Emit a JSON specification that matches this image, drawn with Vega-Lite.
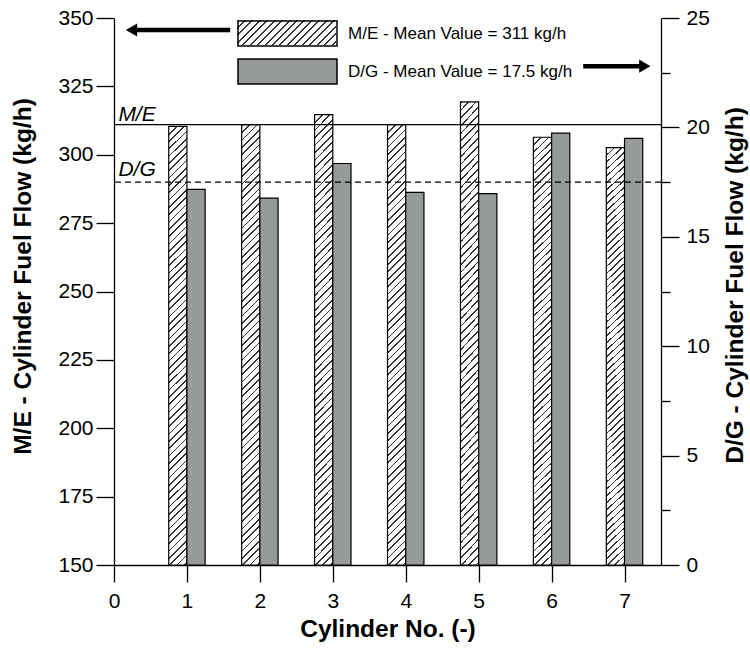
{
  "$schema": "https://vega.github.io/schema/vega-lite/v6.json",
  "width": 547,
  "height": 547,
  "autosize": "none",
  "padding": {"left": 114, "top": 18, "right": 89, "bottom": 85},
  "background": "white",
  "config": {
    "view": {"stroke": null},
    "font": "Liberation Sans",
    "axis": {"grid": false, "domainColor": "black", "domainWidth": 1.3, "tickColor": "black", "tickWidth": 1.3, "labelFont": "Liberation Sans", "labelFontSize": 21, "labelColor": "black", "titleFont": "Liberation Sans", "titleFontSize": 24.5, "titleFontWeight": "bold", "titleColor": "black"}
  },
  "data": {"values": [
    {"cyl": 1, "engine": "M/E", "flow": 310.4}, {"cyl": 2, "engine": "M/E", "flow": 311.0}, {"cyl": 3, "engine": "M/E", "flow": 314.7}, {"cyl": 4, "engine": "M/E", "flow": 311.0}, {"cyl": 5, "engine": "M/E", "flow": 319.3}, {"cyl": 6, "engine": "M/E", "flow": 306.4}, {"cyl": 7, "engine": "M/E", "flow": 302.6},
    {"cyl": 1, "engine": "D/G", "flow": 17.17}, {"cyl": 2, "engine": "D/G", "flow": 16.77}, {"cyl": 3, "engine": "D/G", "flow": 18.35}, {"cyl": 4, "engine": "D/G", "flow": 17.03}, {"cyl": 5, "engine": "D/G", "flow": 16.97}, {"cyl": 6, "engine": "D/G", "flow": 19.74}, {"cyl": 7, "engine": "D/G", "flow": 19.5}
  ]},
  "layer": [
    {"layer": [
      {"transform": [{"filter": "datum.engine === 'M/E'"}],
       "mark": {"type": "bar", "orient": "vertical", "width": 18.2, "xOffset": -9.1, "stroke": "black", "strokeWidth": 1.2,
         "fill": {"gradient": "linear", "x1": 0, "y1": 0, "x2": 0.043, "y2": 1.04, "stops": [
{"offset":0,"color":"#333"},{"offset":0.0037,"color":"#333"},{"offset":0.0037,"color":"#fff"},{"offset":0.016,"color":"#fff"},
{"offset":0.016,"color":"#333"},{"offset":0.0197,"color":"#333"},{"offset":0.0197,"color":"#fff"},{"offset":0.032,"color":"#fff"},
{"offset":0.032,"color":"#333"},{"offset":0.0357,"color":"#333"},{"offset":0.0357,"color":"#fff"},{"offset":0.048,"color":"#fff"},
{"offset":0.048,"color":"#333"},{"offset":0.0517,"color":"#333"},{"offset":0.0517,"color":"#fff"},{"offset":0.064,"color":"#fff"},
{"offset":0.064,"color":"#333"},{"offset":0.0677,"color":"#333"},{"offset":0.0677,"color":"#fff"},{"offset":0.08,"color":"#fff"},
{"offset":0.08,"color":"#333"},{"offset":0.0837,"color":"#333"},{"offset":0.0837,"color":"#fff"},{"offset":0.096,"color":"#fff"},
{"offset":0.096,"color":"#333"},{"offset":0.0997,"color":"#333"},{"offset":0.0997,"color":"#fff"},{"offset":0.112,"color":"#fff"},
{"offset":0.112,"color":"#333"},{"offset":0.1157,"color":"#333"},{"offset":0.1157,"color":"#fff"},{"offset":0.128,"color":"#fff"},
{"offset":0.128,"color":"#333"},{"offset":0.1317,"color":"#333"},{"offset":0.1317,"color":"#fff"},{"offset":0.144,"color":"#fff"},
{"offset":0.144,"color":"#333"},{"offset":0.1477,"color":"#333"},{"offset":0.1477,"color":"#fff"},{"offset":0.16,"color":"#fff"},
{"offset":0.16,"color":"#333"},{"offset":0.1637,"color":"#333"},{"offset":0.1637,"color":"#fff"},{"offset":0.176,"color":"#fff"},
{"offset":0.176,"color":"#333"},{"offset":0.1797,"color":"#333"},{"offset":0.1797,"color":"#fff"},{"offset":0.192,"color":"#fff"},
{"offset":0.192,"color":"#333"},{"offset":0.1957,"color":"#333"},{"offset":0.1957,"color":"#fff"},{"offset":0.208,"color":"#fff"},
{"offset":0.208,"color":"#333"},{"offset":0.2117,"color":"#333"},{"offset":0.2117,"color":"#fff"},{"offset":0.224,"color":"#fff"},
{"offset":0.224,"color":"#333"},{"offset":0.2277,"color":"#333"},{"offset":0.2277,"color":"#fff"},{"offset":0.24,"color":"#fff"},
{"offset":0.24,"color":"#333"},{"offset":0.2437,"color":"#333"},{"offset":0.2437,"color":"#fff"},{"offset":0.256,"color":"#fff"},
{"offset":0.256,"color":"#333"},{"offset":0.2597,"color":"#333"},{"offset":0.2597,"color":"#fff"},{"offset":0.272,"color":"#fff"},
{"offset":0.272,"color":"#333"},{"offset":0.2757,"color":"#333"},{"offset":0.2757,"color":"#fff"},{"offset":0.288,"color":"#fff"},
{"offset":0.288,"color":"#333"},{"offset":0.2917,"color":"#333"},{"offset":0.2917,"color":"#fff"},{"offset":0.304,"color":"#fff"},
{"offset":0.304,"color":"#333"},{"offset":0.3077,"color":"#333"},{"offset":0.3077,"color":"#fff"},{"offset":0.32,"color":"#fff"},
{"offset":0.32,"color":"#333"},{"offset":0.3237,"color":"#333"},{"offset":0.3237,"color":"#fff"},{"offset":0.336,"color":"#fff"},
{"offset":0.336,"color":"#333"},{"offset":0.3397,"color":"#333"},{"offset":0.3397,"color":"#fff"},{"offset":0.352,"color":"#fff"},
{"offset":0.352,"color":"#333"},{"offset":0.3557,"color":"#333"},{"offset":0.3557,"color":"#fff"},{"offset":0.368,"color":"#fff"},
{"offset":0.368,"color":"#333"},{"offset":0.3717,"color":"#333"},{"offset":0.3717,"color":"#fff"},{"offset":0.384,"color":"#fff"},
{"offset":0.384,"color":"#333"},{"offset":0.3877,"color":"#333"},{"offset":0.3877,"color":"#fff"},{"offset":0.4,"color":"#fff"},
{"offset":0.4,"color":"#333"},{"offset":0.4037,"color":"#333"},{"offset":0.4037,"color":"#fff"},{"offset":0.416,"color":"#fff"},
{"offset":0.416,"color":"#333"},{"offset":0.4197,"color":"#333"},{"offset":0.4197,"color":"#fff"},{"offset":0.432,"color":"#fff"},
{"offset":0.432,"color":"#333"},{"offset":0.4357,"color":"#333"},{"offset":0.4357,"color":"#fff"},{"offset":0.448,"color":"#fff"},
{"offset":0.448,"color":"#333"},{"offset":0.4517,"color":"#333"},{"offset":0.4517,"color":"#fff"},{"offset":0.464,"color":"#fff"},
{"offset":0.464,"color":"#333"},{"offset":0.4677,"color":"#333"},{"offset":0.4677,"color":"#fff"},{"offset":0.48,"color":"#fff"},
{"offset":0.48,"color":"#333"},{"offset":0.4837,"color":"#333"},{"offset":0.4837,"color":"#fff"},{"offset":0.496,"color":"#fff"},
{"offset":0.496,"color":"#333"},{"offset":0.4997,"color":"#333"},{"offset":0.4997,"color":"#fff"},{"offset":0.512,"color":"#fff"},
{"offset":0.512,"color":"#333"},{"offset":0.5157,"color":"#333"},{"offset":0.5157,"color":"#fff"},{"offset":0.528,"color":"#fff"},
{"offset":0.528,"color":"#333"},{"offset":0.5317,"color":"#333"},{"offset":0.5317,"color":"#fff"},{"offset":0.544,"color":"#fff"},
{"offset":0.544,"color":"#333"},{"offset":0.5477,"color":"#333"},{"offset":0.5477,"color":"#fff"},{"offset":0.56,"color":"#fff"},
{"offset":0.56,"color":"#333"},{"offset":0.5637,"color":"#333"},{"offset":0.5637,"color":"#fff"},{"offset":0.576,"color":"#fff"},
{"offset":0.576,"color":"#333"},{"offset":0.5797,"color":"#333"},{"offset":0.5797,"color":"#fff"},{"offset":0.592,"color":"#fff"},
{"offset":0.592,"color":"#333"},{"offset":0.5957,"color":"#333"},{"offset":0.5957,"color":"#fff"},{"offset":0.608,"color":"#fff"},
{"offset":0.608,"color":"#333"},{"offset":0.6117,"color":"#333"},{"offset":0.6117,"color":"#fff"},{"offset":0.624,"color":"#fff"},
{"offset":0.624,"color":"#333"},{"offset":0.6277,"color":"#333"},{"offset":0.6277,"color":"#fff"},{"offset":0.64,"color":"#fff"},
{"offset":0.64,"color":"#333"},{"offset":0.6437,"color":"#333"},{"offset":0.6437,"color":"#fff"},{"offset":0.656,"color":"#fff"},
{"offset":0.656,"color":"#333"},{"offset":0.6597,"color":"#333"},{"offset":0.6597,"color":"#fff"},{"offset":0.672,"color":"#fff"},
{"offset":0.672,"color":"#333"},{"offset":0.6757,"color":"#333"},{"offset":0.6757,"color":"#fff"},{"offset":0.688,"color":"#fff"},
{"offset":0.688,"color":"#333"},{"offset":0.6917,"color":"#333"},{"offset":0.6917,"color":"#fff"},{"offset":0.704,"color":"#fff"},
{"offset":0.704,"color":"#333"},{"offset":0.7077,"color":"#333"},{"offset":0.7077,"color":"#fff"},{"offset":0.72,"color":"#fff"},
{"offset":0.72,"color":"#333"},{"offset":0.7237,"color":"#333"},{"offset":0.7237,"color":"#fff"},{"offset":0.736,"color":"#fff"},
{"offset":0.736,"color":"#333"},{"offset":0.7397,"color":"#333"},{"offset":0.7397,"color":"#fff"},{"offset":0.752,"color":"#fff"},
{"offset":0.752,"color":"#333"},{"offset":0.7557,"color":"#333"},{"offset":0.7557,"color":"#fff"},{"offset":0.768,"color":"#fff"},
{"offset":0.768,"color":"#333"},{"offset":0.7717,"color":"#333"},{"offset":0.7717,"color":"#fff"},{"offset":0.784,"color":"#fff"},
{"offset":0.784,"color":"#333"},{"offset":0.7877,"color":"#333"},{"offset":0.7877,"color":"#fff"},{"offset":0.8,"color":"#fff"},
{"offset":0.8,"color":"#333"},{"offset":0.8037,"color":"#333"},{"offset":0.8037,"color":"#fff"},{"offset":0.816,"color":"#fff"},
{"offset":0.816,"color":"#333"},{"offset":0.8197,"color":"#333"},{"offset":0.8197,"color":"#fff"},{"offset":0.832,"color":"#fff"},
{"offset":0.832,"color":"#333"},{"offset":0.8357,"color":"#333"},{"offset":0.8357,"color":"#fff"},{"offset":0.848,"color":"#fff"},
{"offset":0.848,"color":"#333"},{"offset":0.8517,"color":"#333"},{"offset":0.8517,"color":"#fff"},{"offset":0.864,"color":"#fff"},
{"offset":0.864,"color":"#333"},{"offset":0.8677,"color":"#333"},{"offset":0.8677,"color":"#fff"},{"offset":0.88,"color":"#fff"},
{"offset":0.88,"color":"#333"},{"offset":0.8837,"color":"#333"},{"offset":0.8837,"color":"#fff"},{"offset":0.896,"color":"#fff"},
{"offset":0.896,"color":"#333"},{"offset":0.8997,"color":"#333"},{"offset":0.8997,"color":"#fff"},{"offset":0.912,"color":"#fff"},
{"offset":0.912,"color":"#333"},{"offset":0.9157,"color":"#333"},{"offset":0.9157,"color":"#fff"},{"offset":0.928,"color":"#fff"},
{"offset":0.928,"color":"#333"},{"offset":0.9317,"color":"#333"},{"offset":0.9317,"color":"#fff"},{"offset":0.944,"color":"#fff"},
{"offset":0.944,"color":"#333"},{"offset":0.9477,"color":"#333"},{"offset":0.9477,"color":"#fff"},{"offset":0.96,"color":"#fff"},
{"offset":0.96,"color":"#333"},{"offset":0.9637,"color":"#333"},{"offset":0.9637,"color":"#fff"},{"offset":0.976,"color":"#fff"},
{"offset":0.976,"color":"#333"},{"offset":0.9797,"color":"#333"},{"offset":0.9797,"color":"#fff"},{"offset":0.992,"color":"#fff"},
{"offset":0.992,"color":"#333"},{"offset":0.9957,"color":"#333"},{"offset":0.9957,"color":"#fff"},{"offset":1,"color":"#fff"}
         ]}},
       "encoding": {
         "x": {"field": "cyl", "type": "quantitative", "scale": {"domain": [0, 7.5], "nice": false, "zero": false, "padding": 0},
           "axis": {"values": [0, 1, 2, 3, 4, 5, 6, 7], "format": "d", "tickSize": 17, "labelPadding": 8, "labelFlush": false, "title": "Cylinder No. (-)", "titlePadding": 6}},
         "y": {"field": "flow", "type": "quantitative", "scale": {"domain": [150, 350], "nice": false, "zero": false, "clamp": true, "padding": 0},
           "axis": {"orient": "left", "values": [150, 162.5, 175, 187.5, 200, 212.5, 225, 237.5, 250, 262.5, 275, 287.5, 300, 312.5, 325, 337.5, 350],
             "labelExpr": "datum.value % 25 === 0 ? datum.label : ''",
             "tickSize": {"condition": {"test": "datum.value % 25 === 0", "value": 18}, "value": 9},
             "labelPadding": 3, "title": "M/E - Cylinder Fuel Flow (kg/h)", "titlePadding": 22, "titleY": 258}},
         "y2": {"datum": 150}
       }},
      {"data": {"values": [{}]},
       "mark": {"type": "rule", "stroke": "black", "strokeWidth": 1.3},
       "encoding": {"y": {"datum": 311, "type": "quantitative"}}},
      {"data": {"values": [{}]},
       "mark": {"type": "text", "text": "M/E", "fontStyle": "italic", "fontSize": 21, "align": "left", "baseline": "alphabetic", "dy": -4, "color": "black"},
       "encoding": {"x": {"datum": 0.06, "type": "quantitative"}, "y": {"datum": 311, "type": "quantitative"}}},
      {"data": {"values": [{}]},
       "mark": {"type": "rule", "stroke": "black", "strokeWidth": 4.5},
       "encoding": {"x": {"datum": 0.27, "type": "quantitative"}, "x2": {"datum": 1.594}, "y": {"datum": 345.6, "type": "quantitative"}}},
      {"data": {"values": [{}]},
       "mark": {"type": "point", "shape": "triangle-left", "size": 170, "filled": true, "fill": "black", "strokeWidth": 0, "opacity": 1},
       "encoding": {"x": {"datum": 0.24, "type": "quantitative"}, "y": {"datum": 345.6, "type": "quantitative"}}},
      {"data": {"values": [{}]},
       "mark": {"type": "rect",
         "fill": {"gradient": "linear", "x1": 0, "y1": 0, "x2": 1.1774, "y2": 0.2973, "stops": [
{"offset":0,"color":"#333"},{"offset":0.016,"color":"#333"},{"offset":0.016,"color":"#fff"},{"offset":0.06,"color":"#fff"},
{"offset":0.06,"color":"#333"},{"offset":0.076,"color":"#333"},{"offset":0.076,"color":"#fff"},{"offset":0.12,"color":"#fff"},
{"offset":0.12,"color":"#333"},{"offset":0.136,"color":"#333"},{"offset":0.136,"color":"#fff"},{"offset":0.18,"color":"#fff"},
{"offset":0.18,"color":"#333"},{"offset":0.196,"color":"#333"},{"offset":0.196,"color":"#fff"},{"offset":0.24,"color":"#fff"},
{"offset":0.24,"color":"#333"},{"offset":0.256,"color":"#333"},{"offset":0.256,"color":"#fff"},{"offset":0.3,"color":"#fff"},
{"offset":0.3,"color":"#333"},{"offset":0.316,"color":"#333"},{"offset":0.316,"color":"#fff"},{"offset":0.36,"color":"#fff"},
{"offset":0.36,"color":"#333"},{"offset":0.376,"color":"#333"},{"offset":0.376,"color":"#fff"},{"offset":0.42,"color":"#fff"},
{"offset":0.42,"color":"#333"},{"offset":0.436,"color":"#333"},{"offset":0.436,"color":"#fff"},{"offset":0.48,"color":"#fff"},
{"offset":0.48,"color":"#333"},{"offset":0.496,"color":"#333"},{"offset":0.496,"color":"#fff"},{"offset":0.54,"color":"#fff"},
{"offset":0.54,"color":"#333"},{"offset":0.556,"color":"#333"},{"offset":0.556,"color":"#fff"},{"offset":0.6,"color":"#fff"},
{"offset":0.6,"color":"#333"},{"offset":0.616,"color":"#333"},{"offset":0.616,"color":"#fff"},{"offset":0.66,"color":"#fff"},
{"offset":0.66,"color":"#333"},{"offset":0.676,"color":"#333"},{"offset":0.676,"color":"#fff"},{"offset":0.72,"color":"#fff"},
{"offset":0.72,"color":"#333"},{"offset":0.736,"color":"#333"},{"offset":0.736,"color":"#fff"},{"offset":0.78,"color":"#fff"},
{"offset":0.78,"color":"#333"},{"offset":0.796,"color":"#333"},{"offset":0.796,"color":"#fff"},{"offset":0.84,"color":"#fff"},
{"offset":0.84,"color":"#333"},{"offset":0.856,"color":"#333"},{"offset":0.856,"color":"#fff"},{"offset":0.9,"color":"#fff"},
{"offset":0.9,"color":"#333"},{"offset":0.916,"color":"#333"},{"offset":0.916,"color":"#fff"},{"offset":0.96,"color":"#fff"},
{"offset":0.96,"color":"#333"},{"offset":0.976,"color":"#333"},{"offset":0.976,"color":"#fff"},{"offset":1,"color":"#fff"}
         ]}},
       "encoding": {"x": {"datum": 1.6865, "type": "quantitative"}, "x2": {"datum": 3.0439}, "y": {"datum": 349.27, "type": "quantitative"}, "y2": {"datum": 340.13}}}
    ]},
    {"layer": [
      {"transform": [{"filter": "datum.engine === 'D/G'"}],
       "mark": {"type": "bar", "orient": "vertical", "width": 18.2, "xOffset": 9.1, "fill": "#969a98", "stroke": "black", "strokeWidth": 1.2},
       "encoding": {
         "x": {"field": "cyl", "type": "quantitative", "scale": {"domain": [0, 7.5], "nice": false, "zero": false, "padding": 0}},
         "y": {"field": "flow", "type": "quantitative", "scale": {"domain": [0, 25], "nice": false, "padding": 0},
           "axis": {"orient": "right", "values": [0, 2.5, 5, 7.5, 10, 12.5, 15, 17.5, 20, 22.5, 25],
             "labelExpr": "datum.value % 5 === 0 ? datum.label : ''",
             "tickSize": {"condition": {"test": "datum.value % 5 === 0", "value": 18}, "value": 9},
             "labelPadding": 7, "title": "D/G - Cylinder Fuel Flow (kg/h)", "titleAngle": 270, "titleBaseline": "top", "titlePadding": 14, "titleY": 267}}
       }},
      {"data": {"values": [{}]},
       "mark": {"type": "rule", "stroke": "black", "strokeWidth": 1.3, "strokeDash": [6, 4]},
       "encoding": {"y": {"datum": 17.5, "type": "quantitative"}}},
      {"data": {"values": [{}]},
       "mark": {"type": "text", "text": "D/G", "fontStyle": "italic", "fontSize": 21, "align": "left", "baseline": "alphabetic", "dy": -6, "color": "black"},
       "encoding": {"x": {"datum": 0.06, "type": "quantitative"}, "y": {"datum": 17.5, "type": "quantitative"}}},
      {"data": {"values": [{}]},
       "mark": {"type": "rule", "stroke": "black", "strokeWidth": 4.5},
       "encoding": {"x": {"datum": 6.434, "type": "quantitative"}, "x2": {"datum": 7.25}, "y": {"datum": 22.8, "type": "quantitative"}}},
      {"data": {"values": [{}]},
       "mark": {"type": "point", "shape": "triangle-right", "size": 170, "filled": true, "fill": "black", "strokeWidth": 0, "opacity": 1},
       "encoding": {"x": {"datum": 7.278, "type": "quantitative"}, "y": {"datum": 22.8, "type": "quantitative"}}}
    ]},
    {"data": {"values": []},
     "mark": {"type": "bar", "stroke": "black", "strokeWidth": 1.5},
     "encoding": {
       "fill": {"field": "engine", "type": "nominal",
         "scale": {"domain": ["M/E", "D/G"], "range": ["transparent", "#969a98"]},
         "legend": {"orient": "none", "legendX": 160, "legendY": 2, "title": null, "padding": 0,
           "symbolType": "M-3.96,-1H3.96V1H-3.96Z", "symbolSize": 625, "symbolStrokeColor": "black", "symbolStrokeWidth": 1.5,
           "labelFont": "Liberation Sans", "labelFontSize": 17, "labelColor": "black", "labelOffset": 47, "labelLimit": 400, "rowPadding": 7,
           "labelExpr": "datum.value === 'M/E' ? 'M/E - Mean Value = 311 kg/h' : 'D/G - Mean Value = 17.5 kg/h'"}}
     }}
  ],
  "resolve": {"scale": {"y": "independent"}}
}
